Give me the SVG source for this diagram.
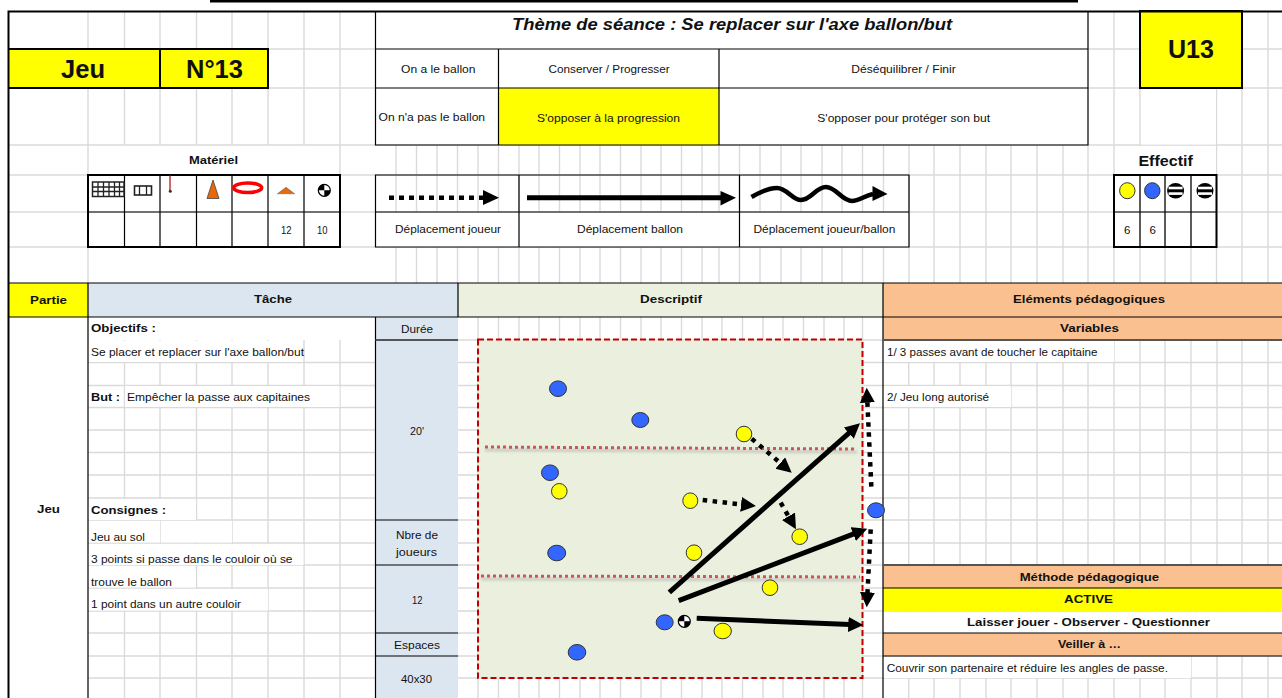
<svg xmlns="http://www.w3.org/2000/svg" width="1282" height="698" viewBox="0 0 1282 698">
<style>
text{font-family:"Liberation Sans",Arial,sans-serif;font-size:11.5px;fill:#111;text-anchor:start}
.b{font-weight:bold}
.grid{fill:none;stroke:#dadada;stroke-width:1.4}
.k{fill:none;stroke:#000;stroke-width:1.2}
.k2{fill:none;stroke:#000;stroke-width:2}
.g2{fill:none;stroke:#555;stroke-width:2}
.w{fill:#fff}.y{fill:#ff0}.bl{fill:#dce6f1}.gr{fill:#ebf1de}.or{fill:#fac08f}
.pb{fill:#3366ff;stroke:#333;stroke-width:1}
.py{fill:#ff0;stroke:#333;stroke-width:1}
.sol{fill:none;stroke:#000;stroke-width:5;marker-end:url(#head)}
.dot{fill:none;stroke:#000;stroke-width:4.5;stroke-dasharray:4.5 5.5;marker-end:url(#head)}
.zone{fill:none;stroke:#c8575a;stroke-width:3;stroke-dasharray:3 3}
.shadow{fill:none;stroke:#999;stroke-width:3;opacity:.4;filter:url(#blur)}
</style>
<defs>
<marker id="head" markerUnits="userSpaceOnUse" markerWidth="17" markerHeight="17" refX="2" refY="7.5" orient="auto"><path d="M0 0L15 7.5L0 15z" fill="#000"/></marker>
<filter id="blur" x="-5%" y="-500%" width="110%" height="1100%"><feGaussianBlur stdDeviation="1.2"/></filter>
<g id="ball"><circle r="6" fill="#fff" stroke="#000" stroke-width="1.2"/><path d="M0 0V-6A6 6 0 0 0-6 0zM0 0V6A6 6 0 0 0 6 0z" fill="#000"/></g>
<g id="striped"><ellipse rx="8.5" ry="7.7" fill="#000"/><rect x="-7" y="-4" width="14" height="2.6" fill="#fff"/><rect x="-7" y="1.6" width="14" height="2.6" fill="#fff"/></g>
</defs>
<rect width="1282" height="698" fill="#fff"/>
<g id="grid">
<path class="grid" d="M88 11V283M124.500 11V145M160 11V145M196.500 11V145M232 11V145M268 11V145M304 11V145M340 11V247"/>
<path class="grid" d="M396 145V283M416.500 145V283M437 145V283M457.500 145V283M478 145V283M498.500 145V283M519 145V283M539 145V283M559.500 145V283M580 145V283M600 145V283M620.500 145V283M641 145V283M661 145V283M681.500 145V283M702 145V283M719 145V283M739.500 145V283M760 145V283M781 145V283M801 145V283M822 145V283M842 145V283M862.500 145V283M883.500 145V283M909 145V283M934 145V283M960 145V283M986 145V283M1011 145V283M1037 145V283M1063 145V283M1088 145V283M1114 11V283M1140 88V283M1165 88V283M1191 88V283M1216.500 88V283M1242 11V283M1268 11V283"/>
<path class="grid" d="M9 49H375M9 88H375M1088 49H1282M1088 88H1282M9 145H1282M9 175H1282M9 212H1282M9 247H1282"/>
<path class="grid" d="M124.500 340V698M160 340V698M196.500 340V698M232 340V698M268 340V698M304 340V698M340 340V698"/>
<path class="grid" d="M478 317V698M498.500 317V698M519 317V698M539 317V698M559.500 317V698M580 317V698M600 317V698M620.500 317V698M641 317V698M661 317V698M681.500 317V698M702 317V698M722 317V698M742.500 317V698M763 317V698M783 317V698M803.500 317V698M824 317V698M844 317V698M862.500 317V698"/>
<path class="grid" d="M908.700 340V698M934 340V698M960 340V698M986 340V698M1011 340V698M1037 340V698M1063 340V698M1088 340V698M1114 340V698M1140 340V698M1165 340V698M1191 340V698M1217 340V698M1242 340V698M1268 340V698"/>
<path class="grid" d="M88 362.500H1282M88 385.500H1282M88 407.500H1282M88 430H1282M88 452.500H1282M88 475H1282M88 498H1282M88 520H1282M88 543H1282M88 565H1282M88 588H1282M88 611H1282M88 633H1282M88 656H1282M88 678H1282M458 340H883"/>
<g class="w">
<rect x="89" y="146" width="250" height="28.500"/><rect x="1115" y="146" width="101" height="28.500"/><rect x="1141" y="89" width="75" height="55.500"/>
<rect x="376" y="213" width="533" height="34"/>
<rect x="89" y="318" width="286" height="22"/><rect x="89" y="341" width="214" height="21"/><rect x="125" y="386" width="214.500" height="21"/>
<rect x="89" y="499" width="107" height="21"/><rect x="89" y="521" width="71" height="21.500"/><rect x="161" y="521" width="71" height="21.500"/><rect x="89" y="544" width="214.500" height="21"/><rect x="89" y="566" width="107" height="21.500"/><rect x="89" y="589" width="179" height="21.500"/>
<rect x="884" y="341" width="230" height="21"/><rect x="884" y="386" width="127" height="21"/><rect x="884" y="612" width="398" height="21"/><rect x="884" y="657" width="307" height="21"/>
</g>
</g>
<g id="fills">
<rect class="y" x="9" y="49" width="259" height="39"/>
<rect class="y" x="498.500" y="88" width="220.500" height="57"/>
<rect class="y" x="1140" y="11" width="102" height="77"/>
<rect class="y" x="9" y="283" width="79" height="34"/>
<rect class="bl" x="88" y="283" width="370" height="34"/>
<rect class="gr" x="458" y="283" width="425" height="34"/>
<rect class="or" x="883" y="283" width="399" height="34"/>
<rect class="or" x="883" y="317" width="399" height="23"/>
<rect class="or" x="883" y="565" width="399" height="23"/>
<rect class="y" x="883" y="588" width="399" height="23"/>
<rect class="or" x="883" y="633" width="399" height="23"/>
<rect class="bl" x="375.500" y="317" width="82.500" height="381"/>
</g>
<g id="borders">
<rect x="210" y="0" width="868" height="2.500" fill="#000"/>
<path class="k2" d="M8.500 698V11.500H1282"/>
<path class="k" d="M375.500 11V145H1088V11M375.500 49H1088M375.500 88H1088M498.500 49V145M719 49V145"/>
<rect class="k2" x="1140" y="11" width="102" height="77"/>
<path class="k2" d="M9 49H268V88H9M160 49V88"/>
<path class="k" d="M375.500 175H909V247H375.500zM375.500 212H909M519 175V247M739.500 175V247"/>
<path class="k" d="M88 212H340M124.500 175V247M160 175V247M196.500 175V247M232 175V247M268 175V247M304 175V247"/>
<rect class="k2" x="88" y="175" width="252" height="72"/>
<path class="k" d="M1114 212H1216.500M1140 175V247M1165 175V247M1191 175V247"/>
<rect class="k2" x="1114" y="175" width="102.500" height="72"/>
<path class="k" d="M9 283H1282M9 317H1282M88 283V698M375.500 317V698M458 283V317M883 283V698M375.500 520H458M375.500 565H458M375.500 633H458M375.500 656H458M883 588H1282M883 633H1282M883 656H1282"/>
<path class="g2" d="M375.500 340H458M883 340H1282M883 565H1282"/>
</g>
<g id="icons">
<g id="icon-filet"><rect x="92.500" y="182" width="31.500" height="14.500" fill="#fff" stroke="#222" stroke-width="1.500"/><path d="M98 182V196.500M103.500 182V196.500M109 182V196.500M114.500 182V196.500M119.500 182V196.500M92.500 187H124M92.500 191.500H124" fill="none" stroke="#222" stroke-width="1.300"/></g>
<g id="icon-but"><rect x="134.500" y="186" width="17" height="9" fill="#fff" stroke="#222" stroke-width="1.600"/><path d="M139.500 186V195M146.500 186V195" stroke="#222" stroke-width="1.300" fill="none"/></g>
<g id="icon-piquet"><path d="M170 175V191" stroke="#c00000" stroke-width="1.200"/><circle cx="170.300" cy="191.300" r="1.500" fill="#333"/></g>
<path id="icon-cone" d="M213 180L219 198.500H207z" fill="#e9680a" stroke="#444" stroke-width=".8"/>
<ellipse id="icon-cerceau" cx="247.700" cy="187.700" rx="14" ry="4.800" fill="#fff" stroke="#f00" stroke-width="3.500"/>
<path id="icon-coupelle" d="M286 187.300L294.500 193.700H277.500z" fill="#e9680a" stroke="#777" stroke-width=".8"/>
<use id="icon-ballon" href="#ball" x="324.300" y="190.300"/>
<g id="legend-dot"><path d="M389 197.700H483" fill="none" stroke="#000" stroke-width="4.500" stroke-dasharray="5 5"/><path d="M483 190L499 197.700L483 205z"/></g>
<g id="legend-solid"><path d="M527 197.700H722" fill="none" stroke="#000" stroke-width="5"/><path d="M720.500 191L736 197.700L720.500 205.500z"/></g>
<g id="legend-wave"><path d="M751.500 197C760 192 768 188 777 188C787 188 792 200 801 200C811 200 816 187 826 187C836 187 842 201 852 201C859 201 864 196 873 194" fill="none" stroke="#000" stroke-width="4.500"/><path d="M872.500 186L887.500 194L872.500 201z"/></g>
<ellipse class="py" cx="1127.300" cy="190.700" rx="7.700" ry="8"/>
<ellipse class="pb" cx="1152.300" cy="190.700" rx="7.700" ry="8"/>
<use href="#striped" x="1175.600" y="190.700"/>
<use href="#striped" x="1205" y="190.700"/>
</g>
<g id="pitch">
<rect x="478" y="339.500" width="384.500" height="338.500" fill="#ebefde"/>
<path class="shadow" d="M485 450L857 452M481 579L860 580"/>
<path class="zone" d="M485 447L857 449M481 576L860 577"/>
<rect x="478" y="339.500" width="384.500" height="338.500" fill="none" stroke="#c00000" stroke-width="2" stroke-dasharray="6 3"/>
</g>
<g id="connectors">
<path class="sol" d="M669.300 592.300L850.300 431.900"/>
<path class="sol" d="M678.700 600.700L855.100 533.400"/>
<path class="sol" d="M696.700 618.300L850.300 624.500"/>
<path class="dot" d="M751.700 438.700L781.800 464.300"/>
<path class="dot" d="M702.700 500L743 504.600"/>
<path class="dot" d="M780.700 502.700L789.500 518"/>
<path class="dot" d="M871.300 486.700L867.300 400.700"/>
<path class="dot" d="M870.700 529.300L867.400 594.300"/>
</g>
<g id="players">
<ellipse id="b1" class="pb" cx="558" cy="388.700" rx="8.500" ry="7.800"/>
<ellipse id="b2" class="pb" cx="640.300" cy="420" rx="8.500" ry="7.500"/>
<ellipse id="b3" class="pb" cx="550" cy="472.700" rx="8.500" ry="7.800"/>
<ellipse id="b4" class="pb" cx="556.700" cy="553" rx="9" ry="7.800"/>
<ellipse id="b5" class="pb" cx="577" cy="652.300" rx="8.800" ry="7.800"/>
<ellipse id="b6" class="pb" cx="664.700" cy="622.300" rx="8.500" ry="7.500"/>
<ellipse id="b7" class="pb" cx="876" cy="510.300" rx="8.500" ry="7.500"/>
<ellipse id="y1" class="py" cx="744" cy="434" rx="7.800" ry="7.800"/>
<ellipse id="y2" class="py" cx="559.300" cy="491.300" rx="7.800" ry="7.800"/>
<ellipse id="y3" class="py" cx="690.300" cy="500.700" rx="7.500" ry="7.800"/>
<ellipse id="y4" class="py" cx="799.700" cy="536.700" rx="7.800" ry="7.800"/>
<ellipse id="y5" class="py" cx="694" cy="552.700" rx="7.800" ry="7.800"/>
<ellipse id="y6" class="py" cx="770" cy="587.700" rx="7.800" ry="7.800"/>
<ellipse id="y7" class="py" cx="722.700" cy="631" rx="8.700" ry="7.800"/>
<use id="ball-jeu" href="#ball" x="684.300" y="621.300"/>
</g>
<g id="labels">
<text x="512" y="30" textLength="440" lengthAdjust="spacingAndGlyphs" style="font-size:16.500px;font-weight:bold;font-style:italic">Thème de séance : Se replacer sur l'axe ballon/but</text>
<text class="b" x="61" y="78" textLength="44" lengthAdjust="spacingAndGlyphs" style="font-size:25px">Jeu</text>
<text class="b" x="186" y="78" textLength="57" lengthAdjust="spacingAndGlyphs" style="font-size:25px">N°13</text>
<text class="b" x="1168" y="58" textLength="46" lengthAdjust="spacingAndGlyphs" style="font-size:25px">U13</text>
<text x="401" y="73" textLength="74.500" lengthAdjust="spacingAndGlyphs">On a le ballon</text>
<text x="548.600" y="73" textLength="121" lengthAdjust="spacingAndGlyphs">Conserver / Progresser</text>
<text x="851.300" y="73" textLength="104.400" lengthAdjust="spacingAndGlyphs">Déséquilibrer / Finir</text>
<text x="378.600" y="121" textLength="106.500" lengthAdjust="spacingAndGlyphs">On n'a pas le ballon</text>
<text x="537" y="122" textLength="143" lengthAdjust="spacingAndGlyphs">S'opposer à la progression</text>
<text x="817.300" y="122" textLength="172.700" lengthAdjust="spacingAndGlyphs">S'opposer pour protéger son but</text>
<text class="b" x="189" y="164" textLength="49" lengthAdjust="spacingAndGlyphs">Matériel</text>
<text class="b" x="1138.400" y="166" textLength="54.400" lengthAdjust="spacingAndGlyphs" style="font-size:14.500px">Effectif</text>
<text x="395" y="233" textLength="106" lengthAdjust="spacingAndGlyphs">Déplacement joueur</text>
<text x="577" y="233" textLength="106" lengthAdjust="spacingAndGlyphs">Déplacement ballon</text>
<text x="753.400" y="233" textLength="142" lengthAdjust="spacingAndGlyphs">Déplacement joueur/ballon</text>
<text x="281" y="234" textLength="10.500" lengthAdjust="spacingAndGlyphs">12</text>
<text x="317" y="234" textLength="10.500" lengthAdjust="spacingAndGlyphs">10</text>
<text x="1124" y="234">6</text>
<text x="1149.500" y="234">6</text>
<text class="b" x="30" y="304" textLength="37" lengthAdjust="spacingAndGlyphs">Partie</text>
<text class="b" x="254" y="303" textLength="38" lengthAdjust="spacingAndGlyphs">Tâche</text>
<text class="b" x="640" y="303" textLength="62" lengthAdjust="spacingAndGlyphs">Descriptif</text>
<text class="b" x="1013" y="303" textLength="152" lengthAdjust="spacingAndGlyphs">Eléments pédagogiques</text>
<text class="b" x="91" y="332" textLength="65" lengthAdjust="spacingAndGlyphs">Objectifs :</text>
<text x="401" y="333" textLength="32" lengthAdjust="spacingAndGlyphs">Durée</text>
<text x="91" y="356" textLength="213" lengthAdjust="spacingAndGlyphs">Se placer et replacer sur l'axe ballon/but</text>
<text class="b" x="91" y="401" textLength="29" lengthAdjust="spacingAndGlyphs">But :</text>
<text x="127" y="401" textLength="183" lengthAdjust="spacingAndGlyphs">Empêcher la passe aux capitaines</text>
<text x="410" y="435" textLength="14" lengthAdjust="spacingAndGlyphs">20'</text>
<text class="b" x="37" y="512.500" textLength="23" lengthAdjust="spacingAndGlyphs">Jeu</text>
<text class="b" x="91" y="514" textLength="75" lengthAdjust="spacingAndGlyphs">Consignes :</text>
<text x="91" y="540.700" textLength="54" lengthAdjust="spacingAndGlyphs">Jeu au sol</text>
<text x="91" y="563" textLength="201.500" lengthAdjust="spacingAndGlyphs">3 points si passe dans le couloir où se</text>
<text x="91" y="586" textLength="81" lengthAdjust="spacingAndGlyphs">trouve le ballon</text>
<text x="91" y="608" textLength="150" lengthAdjust="spacingAndGlyphs">1 point dans un autre couloir</text>
<text x="396" y="539" textLength="42" lengthAdjust="spacingAndGlyphs">Nbre de</text>
<text x="396" y="556" textLength="41" lengthAdjust="spacingAndGlyphs">joueurs</text>
<text x="412" y="604" textLength="10.500" lengthAdjust="spacingAndGlyphs">12</text>
<text x="394" y="649" textLength="46" lengthAdjust="spacingAndGlyphs">Espaces</text>
<text x="401" y="683" textLength="31" lengthAdjust="spacingAndGlyphs">40x30</text>
<text class="b" x="1060" y="332" textLength="59" lengthAdjust="spacingAndGlyphs">Variables</text>
<text x="887" y="356" textLength="210.500" lengthAdjust="spacingAndGlyphs">1/ 3 passes avant de toucher le capitaine</text>
<text x="887" y="401" textLength="102" lengthAdjust="spacingAndGlyphs">2/ Jeu long autorisé</text>
<text class="b" x="1019.700" y="581" textLength="139.300" lengthAdjust="spacingAndGlyphs">Méthode pédagogique</text>
<text class="b" x="1064" y="603" textLength="49" lengthAdjust="spacingAndGlyphs">ACTIVE</text>
<text class="b" x="967" y="626" textLength="243" lengthAdjust="spacingAndGlyphs">Laisser jouer - Observer - Questionner</text>
<text class="b" x="1058" y="648" textLength="63" lengthAdjust="spacingAndGlyphs">Veiller à …</text>
<text x="886.700" y="671.700" textLength="281.300" lengthAdjust="spacingAndGlyphs">Couvrir son partenaire et réduire les angles de passe.</text>
</g>
</svg>
